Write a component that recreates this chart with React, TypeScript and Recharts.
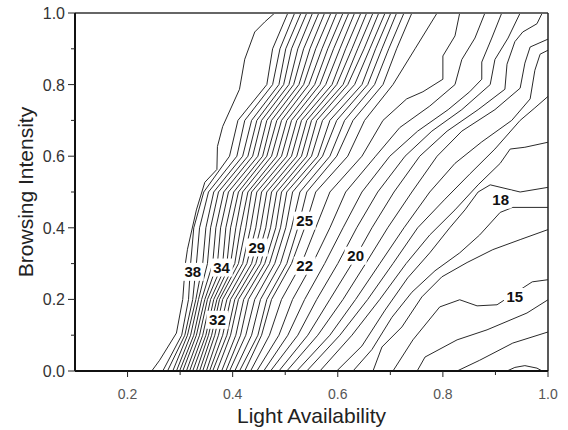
import React from 'react'
import { LineChart, Line, XAxis, YAxis, ReferenceLine, ReferenceDot, Label } from 'recharts'

// contour levels at fixed heights (browsing intensity)
const levelsY = [0, 0.1, 0.2, 0.3, 0.4, 0.5, 0.6, 0.7, 0.8, 0.9, 1.0]

// dense band: each row = x positions of lines 1..21 at one level of levelsY
const denseRows = [
  [0.267, 0.276, 0.286, 0.293, 0.299, 0.305, 0.312, 0.318, 0.324, 0.331, 0.337, 0.343, 0.35, 0.356, 0.362, 0.37, 0.379, 0.387, 0.394, 0.404, 0.413],
  [0.303, 0.309, 0.314, 0.32, 0.326, 0.331, 0.337, 0.343, 0.349, 0.354, 0.36, 0.366, 0.373, 0.381, 0.389, 0.396, 0.406, 0.415, 0.425, 0.436, 0.448],
  [0.316, 0.324, 0.33, 0.335, 0.341, 0.347, 0.352, 0.358, 0.364, 0.37, 0.375, 0.381, 0.389, 0.396, 0.404, 0.411, 0.421, 0.43, 0.442, 0.453, 0.465],
  [0.32, 0.331, 0.343, 0.352, 0.362, 0.371, 0.381, 0.389, 0.396, 0.404, 0.411, 0.419, 0.427, 0.436, 0.444, 0.453, 0.461, 0.47, 0.48, 0.491, 0.503],
  [0.326, 0.337, 0.349, 0.358, 0.368, 0.377, 0.387, 0.396, 0.406, 0.415, 0.425, 0.434, 0.444, 0.453, 0.463, 0.472, 0.482, 0.491, 0.501, 0.512, 0.524],
  [0.345, 0.354, 0.364, 0.373, 0.383, 0.392, 0.402, 0.411, 0.419, 0.429, 0.436, 0.446, 0.455, 0.465, 0.474, 0.484, 0.493, 0.503, 0.514, 0.528, 0.541],
  [0.394, 0.408, 0.419, 0.429, 0.438, 0.448, 0.457, 0.465, 0.474, 0.484, 0.493, 0.503, 0.512, 0.522, 0.531, 0.541, 0.55, 0.562, 0.571, 0.585, 0.598],
  [0.41, 0.423, 0.436, 0.446, 0.455, 0.465, 0.474, 0.484, 0.493, 0.503, 0.512, 0.522, 0.531, 0.541, 0.55, 0.56, 0.571, 0.585, 0.598, 0.613, 0.629],
  [0.465, 0.476, 0.488, 0.497, 0.507, 0.516, 0.526, 0.535, 0.545, 0.556, 0.566, 0.577, 0.589, 0.598, 0.61, 0.619, 0.632, 0.646, 0.657, 0.67, 0.686],
  [0.476, 0.49, 0.501, 0.512, 0.524, 0.535, 0.547, 0.558, 0.57, 0.581, 0.592, 0.604, 0.615, 0.627, 0.638, 0.65, 0.661, 0.672, 0.684, 0.697, 0.712],
  [0.505, 0.518, 0.53, 0.541, 0.552, 0.564, 0.575, 0.587, 0.598, 0.61, 0.621, 0.632, 0.644, 0.655, 0.667, 0.678, 0.69, 0.701, 0.712, 0.726, 0.741],
]

// leftmost contour, [light, browsing]
const edgeLine = [
  [0.246, 0], [0.261, 0.03], [0.293, 0.106], [0.305, 0.2], [0.31, 0.3], [0.314, 0.34], [0.331, 0.45],
  [0.347, 0.527], [0.37, 0.563], [0.371, 0.627], [0.381, 0.683], [0.413, 0.787], [0.423, 0.871],
  [0.442, 0.947], [0.461, 0.975], [0.48, 1],
]

// contours that run from the bottom edge to the top edge
const middleLines = [
  [[0.423, 0], [0.455, 0.1], [0.474, 0.2], [0.512, 0.3], [0.537, 0.4], [0.558, 0.5], [0.619, 0.6], [0.651, 0.7], [0.705, 0.8], [0.747, 0.9], [0.789, 1]],
  [[0.434, 0], [0.47, 0.1], [0.493, 0.2], [0.531, 0.3], [0.558, 0.4], [0.585, 0.5], [0.646, 0.6], [0.686, 0.7], [0.731, 0.76], [0.762, 0.78], [0.8, 0.815], [0.8, 0.88], [0.823, 0.936], [0.832, 1]],
  [[0.446, 0], [0.488, 0.1], [0.514, 0.2], [0.552, 0.3], [0.585, 0.4], [0.615, 0.5], [0.672, 0.6], [0.718, 0.68], [0.775, 0.74], [0.823, 0.8], [0.836, 0.87], [0.861, 0.93], [0.88, 1]],
  [[0.459, 0], [0.505, 0.1], [0.537, 0.2], [0.575, 0.3], [0.61, 0.4], [0.646, 0.5], [0.699, 0.6], [0.752, 0.67], [0.81, 0.73], [0.851, 0.78], [0.874, 0.815], [0.874, 0.863], [0.893, 0.93], [0.912, 1]],
  [[0.472, 0], [0.524, 0.1], [0.56, 0.2], [0.6, 0.3], [0.636, 0.4], [0.676, 0.5], [0.728, 0.6], [0.779, 0.67], [0.836, 0.73], [0.89, 0.8], [0.899, 0.87], [0.924, 0.93], [0.947, 1]],
  [[0.488, 0], [0.543, 0.1], [0.585, 0.2], [0.627, 0.3], [0.665, 0.4], [0.707, 0.5], [0.756, 0.6], [0.808, 0.67], [0.867, 0.73], [0.918, 0.787], [0.922, 0.857], [0.937, 0.92], [0.952, 0.947], [0.979, 0.97], [0.989, 1]],
]

// contours that leave through the right edge
const rightLines = [
  [[0.503, 0], [0.562, 0.1], [0.61, 0.2], [0.653, 0.3], [0.695, 0.4], [0.741, 0.5], [0.789, 0.6], [0.836, 0.67], [0.899, 0.73], [0.947, 0.79], [0.956, 0.86], [0.966, 0.905], [1.0, 0.927]],
  [[0.522, 0], [0.585, 0.1], [0.634, 0.2], [0.68, 0.3], [0.726, 0.4], [0.775, 0.5], [0.823, 0.58], [0.874, 0.64], [0.931, 0.7], [0.966, 0.76], [0.975, 0.84], [0.985, 0.885], [1.0, 0.896]],
  [[0.541, 0], [0.604, 0.1], [0.657, 0.2], [0.705, 0.3], [0.752, 0.4], [0.804, 0.48], [0.851, 0.55], [0.899, 0.62], [0.947, 0.7], [0.975, 0.735], [1.0, 0.767]],
  [[0.566, 0], [0.627, 0.1], [0.68, 0.2], [0.73, 0.3], [0.775, 0.38], [0.823, 0.45], [0.867, 0.52], [0.909, 0.58], [0.928, 0.62], [0.956, 0.625], [1.0, 0.639]],
  [[0.598, 0], [0.646, 0.07], [0.69, 0.17], [0.733, 0.26], [0.775, 0.33], [0.813, 0.4], [0.842, 0.45], [0.867, 0.5], [0.89, 0.52], [0.947, 0.5], [1.0, 0.513]],
  [[0.629, 0], [0.665, 0.06], [0.703, 0.15], [0.741, 0.22], [0.785, 0.28], [0.832, 0.33], [0.87, 0.38], [0.909, 0.443], [0.933, 0.457], [1.0, 0.457]],
  [[0.667, 0], [0.684, 0.067], [0.722, 0.123], [0.76, 0.207], [0.798, 0.263], [0.846, 0.303], [0.895, 0.339], [0.947, 0.367], [1.0, 0.395]],
  [[0.705, 0], [0.743, 0.087], [0.794, 0.179], [0.832, 0.199], [0.865, 0.182], [0.903, 0.185], [0.97, 0.249], [1.0, 0.255]],
  [[0.751, 0], [0.766, 0.039], [0.827, 0.087], [0.884, 0.115], [0.96, 0.162], [1.0, 0.199]],
  [[0.827, 0], [0.87, 0.03], [0.933, 0.078], [1.0, 0.109]],
]

const cornerLoop = [[0.922, 0], [0.937, 0.01], [0.956, 0.015], [0.979, 0.008], [0.989, 0]]

// contour labels
const labelText = ['38', '34', '32', '29', '25', '22', '20', '18', '15']
const labelX = [0.324, 0.379, 0.371, 0.446, 0.537, 0.537, 0.634, 0.91, 0.937]
const labelY = [0.277, 0.289, 0.143, 0.345, 0.42, 0.294, 0.322, 0.479, 0.207]

const xTicks = [0.2, 0.3, 0.4, 0.5, 0.6, 0.7, 0.8, 0.9, 1.0]
const yTicks = [0, 0.1, 0.2, 0.3, 0.4, 0.5, 0.6, 0.7, 0.8, 0.9, 1.0]

const toPts = (arr: number[][]) => arr.map(([x, y]) => ({ x, y }))
const denseLines = denseRows[0].map((_, i) => levelsY.map((y, k) => ({ x: denseRows[k][i], y })))
const contours = [
  toPts(edgeLine),
  ...denseLines,
  ...middleLines.map(toPts),
  ...rightLines.map(toPts),
  toPts(cornerLoop),
]

const isMajor = (v: number) => Math.round(v * 10) % 2 === 0

const XTick = (props: any) => {
  const { x, y, payload } = props
  const major = isMajor(payload.value)
  return (
    <g>
      <line x1={x} y1={y} x2={x} y2={y + (major ? 6 : 4)} stroke="#222" strokeWidth={1} />
      {major && (
        <text x={x} y={y + 28} textAnchor="middle" fontSize={14} fill="#555" fontFamily="Liberation Sans, Arial, sans-serif">
          {payload.value.toFixed(1)}
        </text>
      )}
    </g>
  )
}

const YTick = (props: any) => {
  const { x, y, payload } = props
  const major = isMajor(payload.value)
  return (
    <g>
      <line x1={x} y1={y} x2={x - (major ? 7 : 4)} y2={y} stroke="#222" strokeWidth={1} />
      {major && (
        <text x={x - 10} y={y + 6} textAnchor="end" fontSize={16} fill="#333" fontFamily="Liberation Sans, Arial, sans-serif">
          {payload.value.toFixed(1)}
        </text>
      )}
    </g>
  )
}

const ContourLabel = ({ cx, cy, text }: { cx: number; cy: number; text: string }) => (
  <g>
    <rect x={cx - 11} y={cy - 9} width={22} height={18} fill="#fff" />
    <text x={cx} y={cy + 5.5} textAnchor="middle" fontSize={15} fontWeight="bold" fill="#111" fontFamily="Liberation Sans, Arial, sans-serif">
      {text}
    </text>
  </g>
)

export default function App() {
  return (
    <div style={{ position: 'absolute', left: 0, top: 0, background: '#fff' }}>
      <LineChart width={568} height={430} margin={{ top: 13, right: 20, bottom: 7, left: 10 }}>
        <XAxis
          type="number"
          dataKey="x"
          domain={[0.1, 1.0]}
          allowDataOverflow
          ticks={xTicks}
          interval={0}
          tickSize={0}
          tickMargin={0}
          tickLine={false}
          tick={<XTick />}
          axisLine={{ stroke: '#111', strokeWidth: 2 }}
          height={52}
        >
          <Label
            content={(p: any) => (
              <text
                x={p.viewBox.x + p.viewBox.width / 2}
                y={p.viewBox.y + p.viewBox.height}
                textAnchor="middle"
                fontSize={21}
                fill="#222"
                fontFamily="Liberation Sans, Arial, sans-serif"
              >
                Light Availability
              </text>
            )}
          />
        </XAxis>
        <YAxis
          type="number"
          dataKey="y"
          domain={[0, 1]}
          allowDataOverflow
          ticks={yTicks}
          interval={0}
          tickSize={0}
          tickMargin={0}
          tickLine={false}
          tick={<YTick />}
          axisLine={{ stroke: '#111', strokeWidth: 2 }}
          width={65}
        >
          <Label
            content={(p: any) => {
              const cx = p.viewBox.x + 15
              const cy = p.viewBox.y + p.viewBox.height / 2
              return (
                <text
                  x={cx}
                  y={cy}
                  transform={`rotate(-90 ${cx} ${cy})`}
                  textAnchor="middle"
                  dominantBaseline="central"
                  fontSize={21}
                  fill="#222"
                  fontFamily="Liberation Sans, Arial, sans-serif"
                >
                  Browsing Intensity
                </text>
              )
            }}
          />
        </YAxis>
        {contours.map((pts, i) => (
          <Line
            key={i}
            data={pts}
            dataKey="y"
            type="linear"
            stroke="#2a2a2a"
            strokeWidth={1}
            dot={false}
            activeDot={false}
            isAnimationActive={false}
          />
        ))}
        <ReferenceLine y={1} stroke="#666" strokeWidth={2} />
        <ReferenceLine x={1} stroke="#222" strokeWidth={1.5} />
        {labelText.map((t, i) => (
          <ReferenceDot
            key={t}
            x={labelX[i]}
            y={labelY[i]}
            r={0}
            shape={(p: any) => <ContourLabel cx={p.cx} cy={p.cy} text={t} />}
          />
        ))}
      </LineChart>
    </div>
  )
}
